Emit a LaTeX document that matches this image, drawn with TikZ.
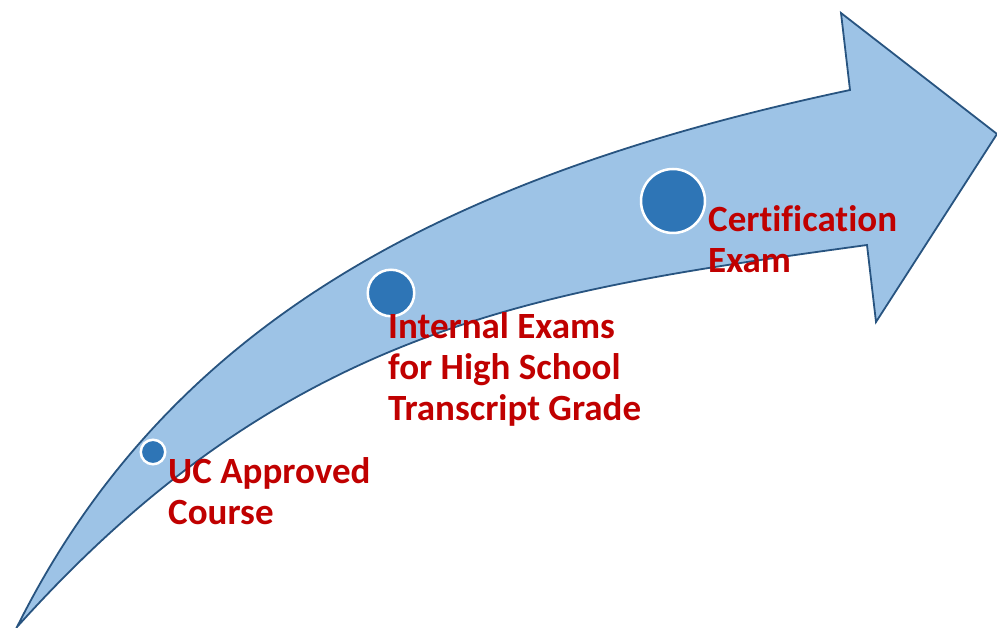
\documentclass[tikz,border=0pt]{standalone}
\usepackage{fontspec}
\setmainfont{Carlito}[Ligatures=CommonOff]
\definecolor{arrowfill}{RGB}{157,195,230}
\definecolor{arrowline}{RGB}{40,84,128}
\definecolor{dotblue}{RGB}{46,117,182}
\definecolor{labelred}{RGB}{192,0,0}

\begin{document}
\begin{tikzpicture}[x=1pt, y=-1pt,
  dot/.style={circle, fill=dotblue, draw=white, line width=2.5pt, inner sep=0pt},
  stage/.style={anchor=base west, align=left, inner sep=0pt, text=labelred,
    font=\fontsize{37}{41}\selectfont\bfseries}]
\useasboundingbox (0,0) rectangle (997,628);
% curved arrow
\draw[arrowline, fill=arrowfill, line width=1.8pt, line join=miter]
  (17,627) .. controls (170,320) and (450,175) .. (850,90)
  -- (841,13) -- (997,134) -- (876,322) -- (867,245)
  .. controls (541,290) and (290,323) .. cycle;

% milestones (label anchors sit on the last line)
\node[dot, minimum size=24.5] (small) at (153,452) {};
\node[dot, minimum size=46.5] (medium) at (391,293) {};
\node[dot, minimum size=64] (large) at (673,201) {};

\node[stage] (uc) at (168,524) {UC Approved\\Course};
\node[stage] (internal) at (388,421) {Internal Exams\\for High School\\Transcript Grade};
\node[stage] (cert) at (708,273) {Certification\\Exam};
\end{tikzpicture}
\end{document}
